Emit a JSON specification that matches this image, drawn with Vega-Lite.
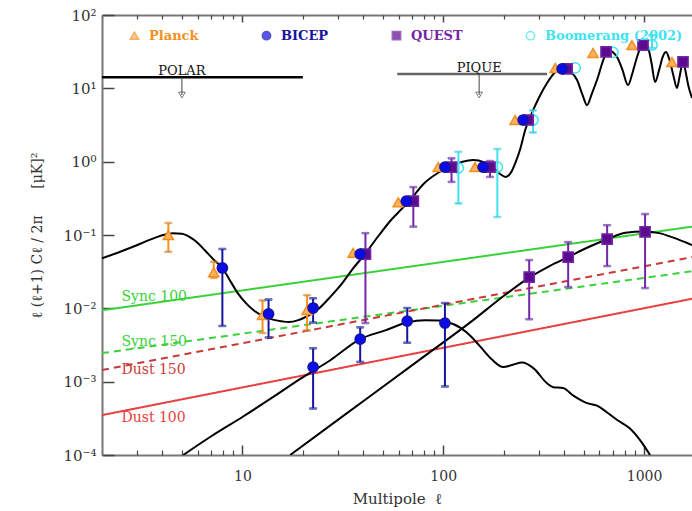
{
  "$schema": "https://vega.github.io/schema/vega-lite/v6.json",
  "width": 590,
  "height": 440,
  "autosize": {"type": "none"},
  "padding": {"left": 102, "top": 15, "right": 0, "bottom": 56},
  "background": "white",
  "config": {"view": {"stroke": null}, "font": "DejaVu Serif"},
  "resolve": {"axis": {"x": "independent", "y": "independent"}},
  "datasets": {
    "fg": [
      {"fg": "Sync 100", "l": 2, "v": 0.0094}, {"fg": "Sync 100", "l": 1733, "v": 0.13},
      {"fg": "Sync 150", "l": 2, "v": 0.00245}, {"fg": "Sync 150", "l": 1733, "v": 0.032},
      {"fg": "Dust 150", "l": 2, "v": 0.00144}, {"fg": "Dust 150", "l": 1733, "v": 0.05},
      {"fg": "Dust 100", "l": 2, "v": 0.00035}, {"fg": "Dust 100", "l": 1733, "v": 0.0135}
    ],
    "fglabels": [
      {"fg": "Sync 100", "l": 2.5, "v": 0.0142},
      {"fg": "Sync 150", "l": 2.5, "v": 0.00346},
      {"fg": "Dust 150", "l": 2.5, "v": 0.00144},
      {"fg": "Dust 100", "l": 2.5, "v": 0.00032}
    ],
    "curves": [
      {"c": "EE", "l": 2, "v": 0.048}, {"c": "EE", "l": 2.5, "v": 0.06}, {"c": "EE", "l": 3, "v": 0.073},
      {"c": "EE", "l": 3.5, "v": 0.087}, {"c": "EE", "l": 4, "v": 0.099}, {"c": "EE", "l": 4.5, "v": 0.106},
      {"c": "EE", "l": 5, "v": 0.104}, {"c": "EE", "l": 5.5, "v": 0.093}, {"c": "EE", "l": 6, "v": 0.078},
      {"c": "EE", "l": 6.5, "v": 0.062}, {"c": "EE", "l": 7.2, "v": 0.046}, {"c": "EE", "l": 7.95, "v": 0.0355},
      {"c": "EE", "l": 8.6, "v": 0.025}, {"c": "EE", "l": 9.5, "v": 0.016}, {"c": "EE", "l": 10.5, "v": 0.0115},
      {"c": "EE", "l": 11.5, "v": 0.0092}, {"c": "EE", "l": 13, "v": 0.0076}, {"c": "EE", "l": 15, "v": 0.0068},
      {"c": "EE", "l": 17, "v": 0.0065}, {"c": "EE", "l": 19, "v": 0.0069}, {"c": "EE", "l": 21, "v": 0.0078},
      {"c": "EE", "l": 23.5, "v": 0.0094}, {"c": "EE", "l": 27.4, "v": 0.0143}, {"c": "EE", "l": 31, "v": 0.021},
      {"c": "EE", "l": 35, "v": 0.033}, {"c": "EE", "l": 41, "v": 0.056}, {"c": "EE", "l": 48, "v": 0.1},
      {"c": "EE", "l": 55, "v": 0.16}, {"c": "EE", "l": 62, "v": 0.225}, {"c": "EE", "l": 68.5, "v": 0.3},
      {"c": "EE", "l": 80, "v": 0.5}, {"c": "EE", "l": 94, "v": 0.7}, {"c": "EE", "l": 108, "v": 0.86},
      {"c": "EE", "l": 125, "v": 1.0}, {"c": "EE", "l": 141, "v": 1.05}, {"c": "EE", "l": 160, "v": 0.98},
      {"c": "EE", "l": 177, "v": 0.84}, {"c": "EE", "l": 192, "v": 0.68}, {"c": "EE", "l": 205, "v": 0.62},
      {"c": "EE", "l": 218, "v": 0.72}, {"c": "EE", "l": 230, "v": 1.0}, {"c": "EE", "l": 241, "v": 1.44},
      {"c": "EE", "l": 256, "v": 2.7}, {"c": "EE", "l": 280, "v": 5.0}, {"c": "EE", "l": 300, "v": 7.5},
      {"c": "EE", "l": 329, "v": 11.8}, {"c": "EE", "l": 361, "v": 16.7}, {"c": "EE", "l": 391, "v": 19},
      {"c": "EE", "l": 420, "v": 17.5}, {"c": "EE", "l": 464, "v": 13}, {"c": "EE", "l": 495, "v": 8},
      {"c": "EE", "l": 520, "v": 5.9}, {"c": "EE", "l": 550, "v": 8.5}, {"c": "EE", "l": 583, "v": 13},
      {"c": "EE", "l": 640, "v": 28}, {"c": "EE", "l": 670, "v": 33}, {"c": "EE", "l": 700, "v": 31},
      {"c": "EE", "l": 735, "v": 26.5}, {"c": "EE", "l": 780, "v": 18}, {"c": "EE", "l": 832, "v": 11.1},
      {"c": "EE", "l": 880, "v": 17}, {"c": "EE", "l": 922, "v": 26.5}, {"c": "EE", "l": 960, "v": 36},
      {"c": "EE", "l": 1000, "v": 41.5}, {"c": "EE", "l": 1040, "v": 38}, {"c": "EE", "l": 1090, "v": 22},
      {"c": "EE", "l": 1135, "v": 12.2}, {"c": "EE", "l": 1190, "v": 18}, {"c": "EE", "l": 1240, "v": 27},
      {"c": "EE", "l": 1286, "v": 31.3}, {"c": "EE", "l": 1330, "v": 26}, {"c": "EE", "l": 1400, "v": 15},
      {"c": "EE", "l": 1459, "v": 10.1}, {"c": "EE", "l": 1500, "v": 14}, {"c": "EE", "l": 1563, "v": 22.9},
      {"c": "EE", "l": 1610, "v": 17}, {"c": "EE", "l": 1660, "v": 11}, {"c": "EE", "l": 1733, "v": 7.4},
      {"c": "BBt", "l": 5.08, "v": 0.0001}, {"c": "BBt", "l": 7, "v": 0.00018}, {"c": "BBt", "l": 10, "v": 0.00033},
      {"c": "BBt", "l": 14, "v": 0.0006}, {"c": "BBt", "l": 19.5, "v": 0.0011}, {"c": "BBt", "l": 27.4, "v": 0.00196},
      {"c": "BBt", "l": 38.6, "v": 0.0038}, {"c": "BBt", "l": 51.4, "v": 0.005}, {"c": "BBt", "l": 66, "v": 0.0064},
      {"c": "BBt", "l": 81, "v": 0.0069}, {"c": "BBt", "l": 95, "v": 0.0068}, {"c": "BBt", "l": 105, "v": 0.0065},
      {"c": "BBt", "l": 122, "v": 0.0054}, {"c": "BBt", "l": 138, "v": 0.0041}, {"c": "BBt", "l": 153, "v": 0.003},
      {"c": "BBt", "l": 175, "v": 0.002}, {"c": "BBt", "l": 199, "v": 0.00158}, {"c": "BBt", "l": 222, "v": 0.0017},
      {"c": "BBt", "l": 247, "v": 0.00182}, {"c": "BBt", "l": 281, "v": 0.00153}, {"c": "BBt", "l": 329, "v": 0.00095},
      {"c": "BBt", "l": 353, "v": 0.00084}, {"c": "BBt", "l": 395, "v": 0.00082}, {"c": "BBt", "l": 443, "v": 0.00065},
      {"c": "BBt", "l": 520, "v": 0.00051}, {"c": "BBt", "l": 583, "v": 0.00047}, {"c": "BBt", "l": 655, "v": 0.00038},
      {"c": "BBt", "l": 735, "v": 0.0003}, {"c": "BBt", "l": 851, "v": 0.00023}, {"c": "BBt", "l": 955, "v": 0.00016},
      {"c": "BBt", "l": 1072, "v": 0.0001},
      {"c": "BBl", "l": 17.3, "v": 0.0001}, {"c": "BBl", "l": 30.7, "v": 0.000318}, {"c": "BBl", "l": 77, "v": 0.00203},
      {"c": "BBl", "l": 141, "v": 0.0069}, {"c": "BBl", "l": 192, "v": 0.0135}, {"c": "BBl", "l": 268, "v": 0.0262},
      {"c": "BBl", "l": 340, "v": 0.038}, {"c": "BBl", "l": 419, "v": 0.05}, {"c": "BBl", "l": 520, "v": 0.067},
      {"c": "BBl", "l": 655, "v": 0.0875}, {"c": "BBl", "l": 808, "v": 0.107}, {"c": "BBl", "l": 1000, "v": 0.112},
      {"c": "BBl", "l": 1190, "v": 0.106}, {"c": "BBl", "l": 1400, "v": 0.092}, {"c": "BBl", "l": 1733, "v": 0.073}
    ],
    "limits": [
      {"exp": "POLAR", "l1": 2, "l2": 20, "v": 14.2, "la": 5.0, "vt": 8.1},
      {"exp": "PIQUE", "l1": 59, "l2": 329, "v": 15.7, "la": 151, "vt": 8.1}
    ],
    "pts": [
      {"s": "Boomerang (2002)", "l": 119, "v": 0.82, "lo": 0.27, "hi": 1.36},
      {"s": "Boomerang (2002)", "l": 186, "v": 0.845, "lo": 0.176, "hi": 1.49},
      {"s": "Boomerang (2002)", "l": 280, "v": 3.7, "lo": 2.5, "hi": 5.0},
      {"s": "Boomerang (2002)", "l": 454, "v": 19},
      {"s": "Boomerang (2002)", "l": 701, "v": 31},
      {"s": "Boomerang (2002)", "l": 1096, "v": 39, "lo": 35.5, "hi": 53},
      {"s": "Planck", "l": 4.28, "v": 0.1, "lo": 0.059, "hi": 0.146},
      {"s": "Planck", "l": 7.2, "v": 0.031, "lo": 0.026, "hi": 0.043},
      {"s": "Planck", "l": 12.6, "v": 0.0081, "lo": 0.0046, "hi": 0.0128},
      {"s": "Planck", "l": 21.0, "v": 0.0095, "lo": 0.005, "hi": 0.0151},
      {"s": "Planck", "l": 35.6, "v": 0.057},
      {"s": "Planck", "l": 59.7, "v": 0.28},
      {"s": "Planck", "l": 94.4, "v": 0.845},
      {"s": "Planck", "l": 144, "v": 0.845},
      {"s": "Planck", "l": 228, "v": 3.7},
      {"s": "Planck", "l": 361, "v": 18.9},
      {"s": "Planck", "l": 557, "v": 30.3},
      {"s": "Planck", "l": 871, "v": 38.9},
      {"s": "Planck", "l": 1377, "v": 22.9},
      {"s": "QUEST", "l": 41, "v": 0.055, "lo": 0.0063, "hi": 0.106},
      {"s": "QUEST", "l": 71, "v": 0.29, "lo": 0.13, "hi": 0.45},
      {"s": "QUEST", "l": 110, "v": 0.845, "lo": 0.53, "hi": 1.11},
      {"s": "QUEST", "l": 171, "v": 0.845, "lo": 0.62, "hi": 1.02},
      {"s": "QUEST", "l": 265, "v": 3.7},
      {"s": "QUEST", "l": 414, "v": 18.4},
      {"s": "QUEST", "l": 647, "v": 31.3},
      {"s": "QUEST", "l": 988, "v": 38.9},
      {"s": "QUEST", "l": 1563, "v": 22.9},
      {"s": "QUEST", "l": 268, "v": 0.0267, "lo": 0.0071, "hi": 0.0455},
      {"s": "QUEST", "l": 419, "v": 0.05, "lo": 0.0195, "hi": 0.08},
      {"s": "QUEST", "l": 655, "v": 0.088, "lo": 0.0377, "hi": 0.136},
      {"s": "QUEST", "l": 1012, "v": 0.11, "lo": 0.0189, "hi": 0.193},
      {"s": "BICEP", "l": 7.95, "v": 0.0355, "lo": 0.00575, "hi": 0.0645},
      {"s": "BICEP", "l": 13.5, "v": 0.0084, "lo": 0.004, "hi": 0.0132},
      {"s": "BICEP", "l": 22.5, "v": 0.0101, "lo": 0.0064, "hi": 0.0137},
      {"s": "BICEP", "l": 38.6, "v": 0.055},
      {"s": "BICEP", "l": 65.5, "v": 0.29},
      {"s": "BICEP", "l": 102, "v": 0.845},
      {"s": "BICEP", "l": 158, "v": 0.845},
      {"s": "BICEP", "l": 250, "v": 3.7},
      {"s": "BICEP", "l": 391, "v": 18.4},
      {"s": "BICEP", "l": 22.5, "v": 0.00158, "lo": 0.00043, "hi": 0.00285},
      {"s": "BICEP", "l": 38.6, "v": 0.0038, "lo": 0.00186, "hi": 0.0055},
      {"s": "BICEP", "l": 66.2, "v": 0.0067, "lo": 0.0034, "hi": 0.0101},
      {"s": "BICEP", "l": 102, "v": 0.0063, "lo": 0.00086, "hi": 0.0118}
    ]
  },
  "layer": [
    {
      "data": {"name": "fg"},
      "mark": {"type": "line", "strokeWidth": 2, "clip": true},
      "encoding": {
        "x": {"field": "l", "type": "quantitative", "scale": {"type": "log", "domain": [2, 1733], "nice": false},
          "axis": {"orient": "bottom", "values": [10, 100, 1000], "tickSize": -10, "tickColor": "#444", "tickWidth": 1.5,
            "domainColor": "#777", "domainWidth": 2, "labelExpr": "format(datum.value, 'd')", "labelFont": "DejaVu Serif",
            "labelFontSize": 14, "labelColor": "#333", "labelPadding": 24, "labelFlush": false, "grid": false,
            "title": "Multipole\u00a0\u00a0ℓ", "titleFont": "DejaVu Serif", "titleFontSize": 15, "titleFontWeight": "normal",
            "titleColor": "#333", "titlePadding": 8}},
        "y": {"field": "v", "type": "quantitative", "scale": {"type": "log", "domain": [0.0001, 100], "nice": false},
          "axis": {"orient": "left", "values": [0.0001, 0.001, 0.01, 0.1, 1, 10, 100], "tickSize": -12, "tickColor": "#444",
            "tickWidth": 1.5, "domainColor": "#777", "domainWidth": 2, "grid": false,
            "labelExpr": "datum.value >= 50 ? '10²' : datum.value >= 5 ? '10¹' : datum.value >= 0.5 ? '10⁰' : datum.value >= 0.05 ? '10⁻¹' : datum.value >= 0.005 ? '10⁻²' : datum.value >= 0.0005 ? '10⁻³' : '10⁻⁴'",
            "labelFont": "DejaVu Serif", "labelFontSize": 15, "labelColor": "#333", "labelPadding": 18,
            "title": "ℓ (ℓ+1) Cℓ / 2π\u00a0\u00a0\u00a0\u00a0\u00a0\u00a0[μK]²", "titleFont": "DejaVu Serif", "titleFontSize": 14,
            "titleFontWeight": "normal", "titleColor": "#333", "titlePadding": 18}},
        "color": {"field": "fg", "type": "nominal", "legend": null,
          "scale": {"domain": ["Sync 100", "Sync 150", "Dust 150", "Dust 100"], "range": ["#3ad13a", "#3ad13a", "#c83a3a", "#e84040"]}},
        "strokeDash": {"field": "fg", "type": "nominal", "legend": null,
          "scale": {"domain": ["Sync 100", "Sync 150", "Dust 150", "Dust 100"], "range": [[1, 0], [7, 5], [7, 5], [1, 0]]}}
      }
    },
    {
      "data": {"name": "fglabels"},
      "mark": {"type": "text", "align": "left", "baseline": "middle", "font": "DejaVu Serif", "fontSize": 14, "clip": true},
      "encoding": {
        "x": {"field": "l", "type": "quantitative", "scale": {"type": "log", "domain": [2, 1733], "nice": false},
          "axis": {"orient": "bottom", "values": [2, 3, 4, 5, 6, 7, 8, 9, 20, 30, 40, 50, 60, 70, 80, 90, 200, 300, 400, 500, 600, 700, 800, 900],
            "tickSize": -5, "tickColor": "#444", "tickWidth": 1.2, "labels": false, "domain": false, "grid": false, "title": null}},
        "y": {"field": "v", "type": "quantitative", "scale": {"type": "log", "domain": [0.0001, 100], "nice": false}, "axis": null},
        "text": {"field": "fg"},
        "color": {"field": "fg", "type": "nominal", "legend": null,
          "scale": {"domain": ["Sync 100", "Sync 150", "Dust 150", "Dust 100"], "range": ["#3ad13a", "#3ad13a", "#c83a3a", "#e84040"]}}
      }
    },
    {
      "data": {"name": "curves"},
      "mark": {"type": "line", "strokeWidth": 2, "color": "#000000", "interpolate": "monotone", "clip": true},
      "encoding": {
        "x": {"field": "l", "type": "quantitative", "scale": {"type": "log", "domain": [2, 1733], "nice": false},
          "axis": {"orient": "top", "values": [10, 100, 1000], "tickSize": -7, "tickColor": "#444", "tickWidth": 1.5,
            "labels": false, "domain": true, "domainColor": "#777", "domainWidth": 2, "grid": false, "title": null}},
        "y": {"field": "v", "type": "quantitative", "scale": {"type": "log", "domain": [0.0001, 100], "nice": false}, "axis": null},
        "detail": {"field": "c", "type": "nominal"}
      }
    },
    {
      "data": {"name": "limits"},
      "mark": {"type": "rule", "strokeWidth": 2.5, "clip": true},
      "encoding": {
        "x": {"field": "l1", "type": "quantitative", "scale": {"type": "log", "domain": [2, 1733], "nice": false},
          "axis": {"orient": "top", "values": [2, 3, 4, 5, 6, 7, 8, 9, 20, 30, 40, 50, 60, 70, 80, 90, 200, 300, 400, 500, 600, 700, 800, 900],
            "tickSize": -4, "tickColor": "#444", "tickWidth": 1.2, "labels": false, "domain": false, "grid": false, "title": null}},
        "x2": {"field": "l2"},
        "y": {"field": "v", "type": "quantitative", "scale": {"type": "log", "domain": [0.0001, 100], "nice": false}, "axis": null},
        "color": {"condition": {"test": "datum.exp == 'PIQUE'", "value": "#666666"}, "value": "#000000"}
      }
    },
    {
      "data": {"name": "limits"},
      "mark": {"type": "rule", "strokeWidth": 1, "color": "#444444", "clip": true},
      "encoding": {
        "x": {"field": "la", "type": "quantitative", "scale": {"type": "log", "domain": [2, 1733], "nice": false}, "axis": null},
        "y": {"field": "v", "type": "quantitative", "scale": {"type": "log", "domain": [0.0001, 100], "nice": false}, "axis": null},
        "y2": {"field": "vt"}
      }
    },
    {
      "data": {"name": "limits"},
      "mark": {"type": "point", "shape": "triangle-down", "filled": false, "size": 45, "strokeWidth": 1, "color": "#444444", "clip": true},
      "encoding": {
        "x": {"field": "la", "type": "quantitative", "scale": {"type": "log", "domain": [2, 1733], "nice": false}, "axis": null},
        "y": {"field": "vt", "type": "quantitative", "scale": {"type": "log", "domain": [0.0001, 100], "nice": false}, "axis": null}
      }
    },
    {
      "data": {"name": "limits"},
      "mark": {"type": "text", "align": "center", "baseline": "alphabetic", "dy": -2, "font": "DejaVu Serif", "fontSize": 13, "color": "#111111", "clip": true},
      "encoding": {
        "x": {"field": "la", "type": "quantitative", "scale": {"type": "log", "domain": [2, 1733], "nice": false}, "axis": null},
        "y": {"field": "v", "type": "quantitative", "scale": {"type": "log", "domain": [0.0001, 100], "nice": false}, "axis": null},
        "text": {"field": "exp"}
      }
    },
    {
      "data": {"name": "pts"},
      "transform": [{"filter": "isValid(datum.lo)"}],
      "mark": {"type": "rule", "strokeWidth": 2, "clip": true},
      "encoding": {
        "x": {"field": "l", "type": "quantitative", "scale": {"type": "log", "domain": [2, 1733], "nice": false}, "axis": null},
        "y": {"field": "lo", "type": "quantitative", "scale": {"type": "log", "domain": [0.0001, 100], "nice": false}, "axis": null},
        "y2": {"field": "hi"},
        "stroke": {"field": "s", "type": "nominal",
          "scale": {"domain": ["Planck", "BICEP", "QUEST", "Boomerang (2002)"], "range": ["#f39020", "#14149e", "#7326a6", "#3fe3ef"]}}
      }
    },
    {
      "data": {"name": "pts"},
      "transform": [{"filter": "isValid(datum.lo)"}, {"fold": ["lo", "hi"], "as": ["end", "ev"]}],
      "mark": {"type": "tick", "orient": "horizontal", "size": 7, "thickness": 1.5, "clip": true},
      "encoding": {
        "x": {"field": "l", "type": "quantitative", "scale": {"type": "log", "domain": [2, 1733], "nice": false}, "axis": null},
        "y": {"field": "ev", "type": "quantitative", "scale": {"type": "log", "domain": [0.0001, 100], "nice": false}, "axis": null},
        "stroke": {"field": "s", "type": "nominal",
          "scale": {"domain": ["Planck", "BICEP", "QUEST", "Boomerang (2002)"], "range": ["#f39020", "#14149e", "#7326a6", "#3fe3ef"]}}
      }
    },
    {
      "data": {"name": "pts"},
      "mark": {"type": "point", "size": 105, "strokeWidth": 1.5, "opacity": 1, "clip": true},
      "encoding": {
        "x": {"field": "l", "type": "quantitative", "scale": {"type": "log", "domain": [2, 1733], "nice": false}, "axis": null},
        "y": {"field": "v", "type": "quantitative", "scale": {"type": "log", "domain": [0.0001, 100], "nice": false}, "axis": null},
        "stroke": {"field": "s", "type": "nominal",
          "scale": {"domain": ["Planck", "BICEP", "QUEST", "Boomerang (2002)"], "range": ["#f39020", "#14149e", "#7326a6", "#3fe3ef"]},
          "legend": {"orient": "none", "legendX": 26, "legendY": 14, "direction": "horizontal", "title": null,
            "labelFont": "DejaVu Serif", "labelFontSize": 13, "labelFontWeight": "bold", "columnPadding": 60,
            "symbolSize": 70, "symbolStrokeWidth": 1.5, "labelOffset": 8,
            "labelColor": {"expr": "scale('stroke', datum.value)"}}},
        "fill": {"field": "s", "type": "nominal",
          "scale": {"domain": ["Planck", "BICEP", "QUEST", "Boomerang (2002)"], "range": ["#f8b260", "#0b0be8", "#5b0b8e", "transparent"]},
          "legend": {"orient": "none", "legendX": 26, "legendY": 14, "direction": "horizontal", "title": null,
            "labelFont": "DejaVu Serif", "labelFontSize": 13, "labelFontWeight": "bold", "columnPadding": 60,
            "symbolSize": 70, "symbolStrokeWidth": 1.5, "labelOffset": 8,
            "labelColor": {"expr": "scale('stroke', datum.value)"}}},
        "shape": {"field": "s", "type": "nominal",
          "scale": {"domain": ["Planck", "BICEP", "QUEST", "Boomerang (2002)"], "range": ["triangle-up", "circle", "square", "circle"]},
          "legend": {"orient": "none", "legendX": 26, "legendY": 14, "direction": "horizontal", "title": null,
            "labelFont": "DejaVu Serif", "labelFontSize": 13, "labelFontWeight": "bold", "columnPadding": 60,
            "symbolSize": 70, "symbolStrokeWidth": 1.5, "labelOffset": 8,
            "labelColor": {"expr": "scale('stroke', datum.value)"}}}
      }
    }
  ]
}
